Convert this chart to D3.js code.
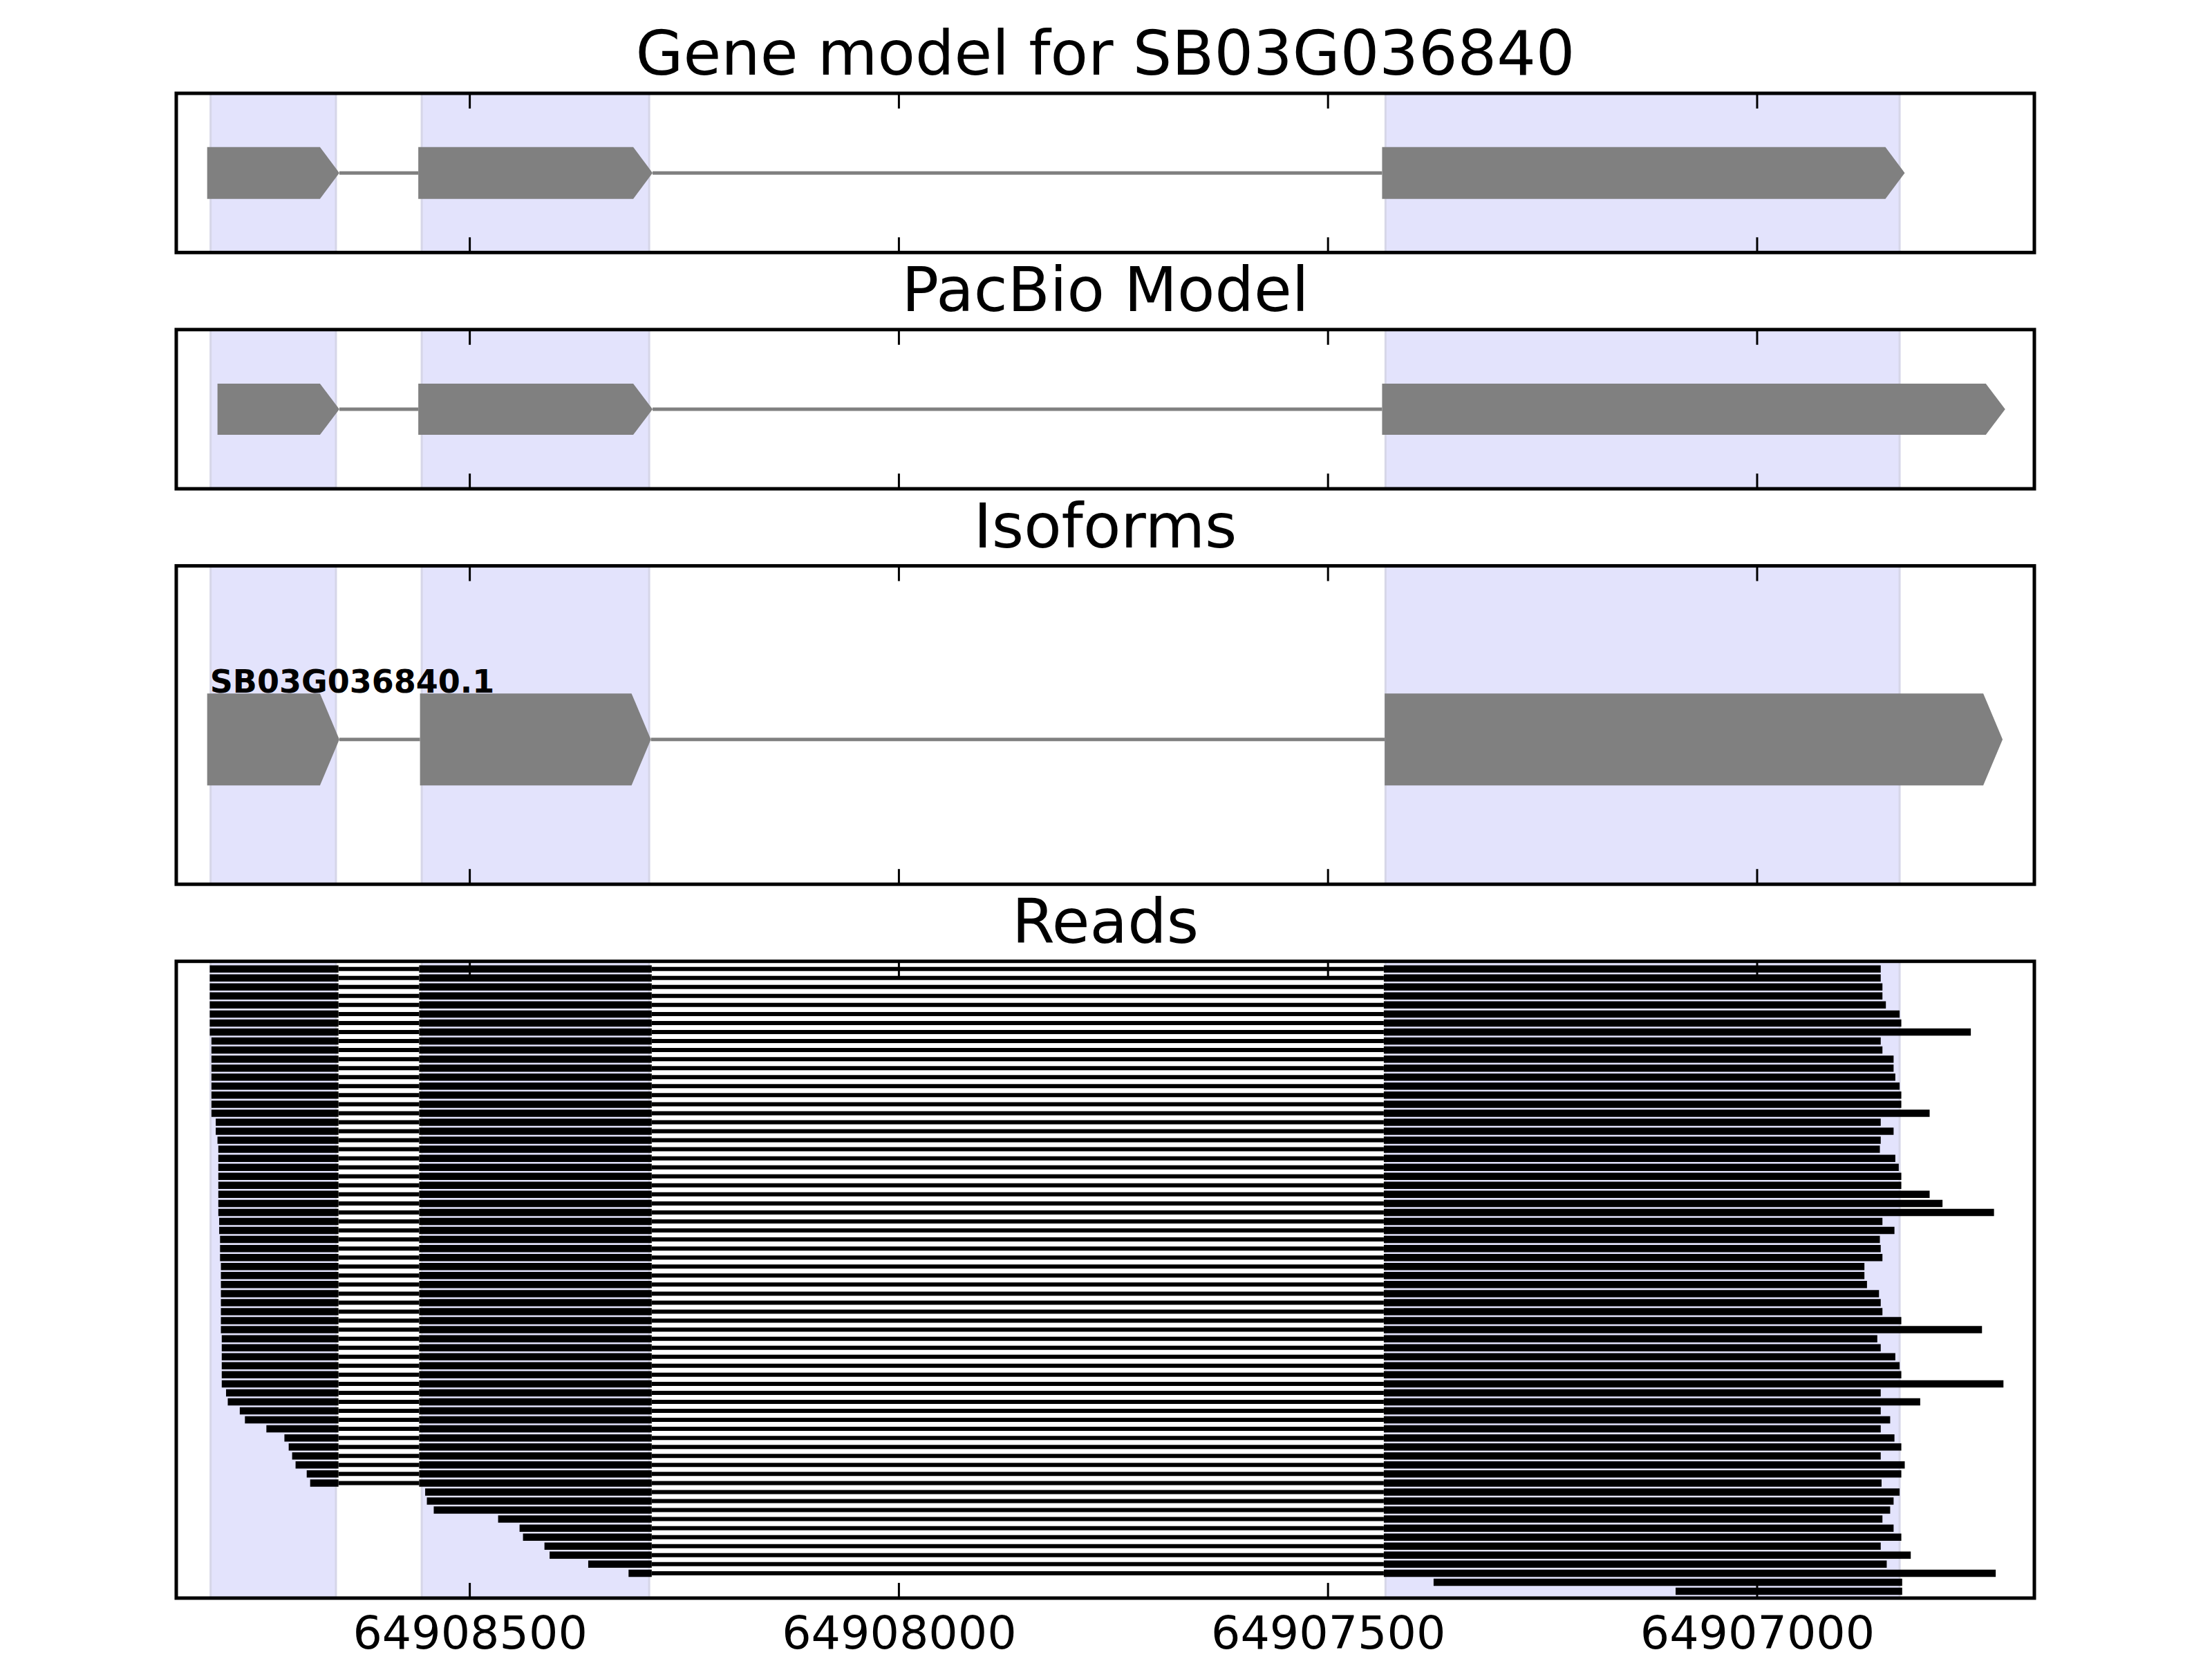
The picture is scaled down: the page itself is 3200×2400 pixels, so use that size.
<!DOCTYPE html>
<html><head><meta charset="utf-8">
<script src="https://cdn.jsdelivr.net/npm/d3@7/dist/d3.min.js"></script>
<style>body{margin:0;background:#fff}</style>
</head><body>
<svg id="chart" width="3200" height="2400" xmlns="http://www.w3.org/2000/svg"></svg>
<script>
// ---------------- data ----------------
const panelTitles = ["Gene model for SB03G036840", "PacBio Model", "Isoforms", "Reads"];
const xDomain = [64908842, 64906677];
const xTicks = [64908500, 64908000, 64907500, 64907000];

// shaded exon spans (genomic start, end; minus strand)
const exonSpans = [[64908802, 64908656], [64908556, 64908291], [64907433, 64906834]];

const geneModelExons = [[64908806, 64908652], [64908560, 64908287], [64907437, 64906828]];
const pacbioExons    = [[64908794, 64908652], [64908560, 64908287], [64907437, 64906711]];
const isoformNames   = ["SB03G036840.1"];
const isoformExons   = [[64908806, 64908652], [64908558, 64908289], [64907434, 64906714]];

// intron junctions of the reads: [last base of upstream exon, first base of downstream exon]
const readJunctions = [[64908653, 64908559], [64908288, 64907435]];

// each read, top to bottom
const readStart = [
  64908803, 64908803, 64908803, 64908803, 64908803, 64908803, 64908803, 64908803,
  64908801, 64908801, 64908801, 64908801, 64908801, 64908801, 64908801, 64908801, 64908801,
  64908796, 64908796, 64908794,
  64908793, 64908793, 64908793, 64908793, 64908793, 64908793, 64908793, 64908793,
  64908792, 64908792, 64908791, 64908791, 64908791,
  64908790, 64908790, 64908790, 64908790, 64908790, 64908790, 64908790, 64908790,
  64908789, 64908789, 64908789, 64908789, 64908789, 64908789,
  64908784, 64908782, 64908768, 64908762, 64908737, 64908716, 64908711, 64908707,
  64908703, 64908690, 64908686,
  64908552, 64908550, 64908542, 64908467, 64908442, 64908438, 64908413, 64908407,
  64908362, 64908315,
  64907377, 64907095
];
const readEnd = [
  64906856, 64906856, 64906854, 64906854, 64906850, 64906834, 64906832, 64906751,
  64906856, 64906854, 64906841, 64906841, 64906839, 64906834, 64906832, 64906832,
  64906799, 64906856, 64906841, 64906856, 64906857, 64906839, 64906835, 64906832,
  64906832, 64906799, 64906784, 64906724, 64906854, 64906840, 64906857, 64906856,
  64906854, 64906875, 64906875, 64906872, 64906858, 64906856, 64906854, 64906832,
  64906738, 64906860, 64906856, 64906839, 64906834, 64906832, 64906713, 64906856,
  64906810, 64906856, 64906845, 64906856, 64906840, 64906832, 64906856, 64906828,
  64906832, 64906855, 64906834, 64906841, 64906845, 64906854, 64906841, 64906832,
  64906856, 64906821, 64906849, 64906722, 64906831, 64906831
];

// ---------------- layout ----------------
const W = 3200, H = 2400;
const left = 255, right = 2943;
const unit = 230.3, gap = 111.5, top0 = 135;
const panelUnits = [1, 1, 2, 4];
const FONT = "DejaVu Sans, Liberation Sans, sans-serif";
const GRAY = "#808080";

const svg = d3.select("#chart");
svg.append("rect").attr("width", W).attr("height", H).attr("fill", "#fff");

const x = d3.scaleLinear().domain(xDomain).range([left, right]);

let yCursor = top0;
const panels = panelUnits.map((u, i) => {
  const p = { top: yCursor, bottom: yCursor + u * unit, title: panelTitles[i] };
  yCursor = p.bottom + gap;
  return p;
});

function drawShading(g, p) {
  g.selectAll("rect.span").data(exonSpans).join("rect")
    .attr("class", "span")
    .attr("x", d => x(d[0]))
    .attr("width", d => x(d[1]) - x(d[0]))
    .attr("y", p.top)
    .attr("height", p.bottom - p.top)
    .attr("fill", "rgb(227,227,252)")
    .attr("stroke", "rgb(214,214,232)")
    .attr("stroke-width", 3);
}

function drawFrame(g, p, showLabels) {
  const tickLen = 22;
  const tg = g.append("g");
  xTicks.forEach(t => {
    tg.append("line").attr("x1", x(t)).attr("x2", x(t))
      .attr("y1", p.top).attr("y2", p.top + tickLen)
      .attr("stroke", "#000").attr("stroke-width", 3);
    tg.append("line").attr("x1", x(t)).attr("x2", x(t))
      .attr("y1", p.bottom).attr("y2", p.bottom - tickLen)
      .attr("stroke", "#000").attr("stroke-width", 3);
  });
  g.append("rect")
    .attr("x", left).attr("y", p.top)
    .attr("width", right - left).attr("height", p.bottom - p.top)
    .attr("fill", "none").attr("stroke", "#000").attr("stroke-width", 5);
  g.append("text")
    .attr("x", (left + right) / 2).attr("y", p.top - 27)
    .attr("text-anchor", "middle")
    .attr("font-family", FONT).attr("font-size", 89)
    .text(p.title);
  if (showLabels) {
    const ax = d3.axisBottom(x).tickValues(xTicks).tickFormat(d3.format("d")).tickSize(0).tickPadding(0);
    const axg = g.append("g").attr("transform", `translate(0,${p.bottom})`).call(ax);
    axg.select(".domain").remove();
    axg.selectAll("text")
      .attr("font-family", FONT).attr("font-size", 66.7).attr("fill", "#000")
      .attr("dy", null).attr("y", 73);
  }
}

function glyphPoints(d, mid, half, head) {
  const x0 = x(d[0]), x1 = x(d[1]);
  const h = Math.min(head, x1 - x0);
  return [[x0, mid - half], [x1 - h, mid - half], [x1, mid], [x1 - h, mid + half], [x0, mid + half]];
}

function drawModel(g, exons, mid, half) {
  const introns = d3.pairs(exons).map(([a, b]) => [a[1], b[0]]);
  g.selectAll("line.intron").data(introns).join("line")
    .attr("class", "intron")
    .attr("x1", d => x(d[0])).attr("x2", d => x(d[1]))
    .attr("y1", mid).attr("y2", mid)
    .attr("stroke", GRAY).attr("stroke-width", 5);
  g.selectAll("polygon.exon").data(exons).join("polygon")
    .attr("class", "exon")
    .attr("points", d => glyphPoints(d, mid, half, 28).map(p => p.join(",")).join(" "))
    .attr("fill", GRAY);
}

// Panel 1: gene model
{
  const p = panels[0];
  const g = svg.append("g");
  const y = d3.scaleLinear().domain([0, 1]).range([p.bottom, p.top]);
  drawShading(g, p);
  drawModel(g, geneModelExons, y(0.5), 37.5);
  drawFrame(g, p, false);
}
// Panel 2: PacBio model
{
  const p = panels[1];
  const g = svg.append("g");
  const y = d3.scaleLinear().domain([0, 1]).range([p.bottom, p.top]);
  drawShading(g, p);
  drawModel(g, pacbioExons, y(0.5), 37);
  drawFrame(g, p, false);
}
// Panel 3: isoforms
{
  const p = panels[2];
  const g = svg.append("g");
  const y = d3.scaleLinear().domain([0, 1]).range([p.bottom, p.top]);
  drawShading(g, p);
  const mid = y(0.455);
  drawModel(g, isoformExons, mid, 66.5);
  g.append("text")
    .attr("x", x(isoformExons[0][0]) + 4).attr("y", mid - 68)
    .attr("font-family", FONT).attr("font-weight", "bold").attr("font-size", 46)
    .text(isoformNames[0]);
  drawFrame(g, p, false);
}
// Panel 4: reads
{
  const p = panels[3];
  const g = svg.append("g");
  const y = d3.scaleLinear().domain([0.16, readStart.length + 0.76]).range([p.top, p.bottom]);
  drawShading(g, p);
  const reads = readStart.map((s, i) => ({ s, e: readEnd[i], row: i + 1 }));
  function blocks(s, e) {
    const out = []; let cur = s;
    readJunctions.forEach(([a, b]) => {
      if (s > a && e < b) { out.push([cur, a]); cur = b; }
    });
    out.push([cur, e]);
    return out;
  }
  reads.forEach(r => {
    const bl = blocks(r.s, r.e);
    const yy = y(r.row);
    d3.pairs(bl).forEach(([a, b]) => {
      g.append("line").attr("x1", x(a[1])).attr("x2", x(b[0]))
        .attr("y1", yy).attr("y2", yy)
        .attr("stroke", "#000").attr("stroke-width", 6);
    });
    bl.forEach(b => {
      g.append("line").attr("x1", x(b[0])).attr("x2", x(b[1]))
        .attr("y1", yy).attr("y2", yy)
        .attr("stroke", "#000").attr("stroke-width", 10.5);
    });
  });
  drawFrame(g, p, true);
}
</script>
</body></html>
